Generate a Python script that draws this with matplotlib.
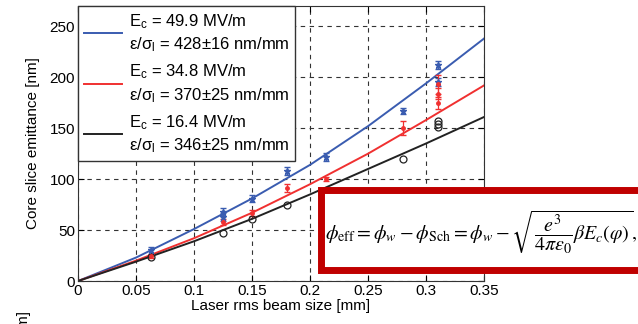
import numpy as np
import matplotlib.pyplot as plt
from matplotlib.patches import Rectangle

plt.rcParams['font.family'] = ['Liberation Sans', 'DejaVu Sans']
plt.rcParams['mathtext.fontset'] = 'custom'
plt.rcParams['mathtext.rm'] = 'Liberation Sans'
plt.rcParams['mathtext.it'] = 'Liberation Sans:italic'

# fit curves
x_fit = [0, 0.05, 0.1, 0.15, 0.2, 0.25, 0.3, 0.35]
blue_fit = [0, 23, 51, 81, 114, 152, 194, 238]
red_fit = [0, 20, 42, 67, 95, 125, 158, 192]
black_fit = [0, 19, 39, 61, 85, 110, 135, 161]

# measured points
bx = [0.0625, 0.125, 0.125, 0.15, 0.18, 0.214, 0.28, 0.31, 0.31]
by = [30, 68, 63, 81, 108, 122, 167, 212, 195]
be = [3, 4, 4, 3, 4, 4, 3, 4, 4]

rx = [0.0625, 0.125, 0.15, 0.18, 0.214, 0.28, 0.31, 0.31, 0.31]
ry = [25, 58, 67, 91, 100, 150, 193, 184, 175]
re = [2, 3, 3, 4, 2, 7, 9, 5, 6]

kx = [0.0625, 0.125, 0.15, 0.18, 0.28, 0.31, 0.31, 0.31]
ky = [24, 47, 61, 75, 120, 157, 154, 151]

labels = ['E$_{\\rm c}$ = 49.9 MV/m\nε/σ$_{\\rm l}$ = 428±16 nm/mm',
          'E$_{\\rm c}$ = 34.8 MV/m\nε/σ$_{\\rm l}$ = 370±25 nm/mm',
          'E$_{\\rm c}$ = 16.4 MV/m\nε/σ$_{\\rm l}$ = 346±25 nm/mm']

cb, cr, ck = '#3a5cb0', '#f03030', '#222222'

fig = plt.figure(figsize=(6.38, 3.24), dpi=100)
ax = fig.add_axes([0.1223, 0.1327, 0.6363, 0.8488])

l1, = ax.plot(x_fit, blue_fit, color=cb, lw=1.4)
l2, = ax.plot(x_fit, red_fit, color=cr, lw=1.4)
l3, = ax.plot(x_fit, black_fit, color=ck, lw=1.4)

ax.errorbar(bx, by, yerr=be, fmt='*', color=cb, ms=5, capsize=2.5, elinewidth=0.9)
ax.errorbar(rx, ry, yerr=re, fmt='.', color=cr, ms=5, capsize=2.5, elinewidth=0.9)
ax.plot(kx, ky, 'o', mfc='none', mec=ck, ms=5, mew=0.9)

ax.set_xlim(0, 0.35)
ax.set_ylim(0, 270)
ax.set_xticks([0, 0.05, 0.1, 0.15, 0.2, 0.25, 0.3, 0.35])
ax.set_xticklabels(['0', '0.05', '0.1', '0.15', '0.2', '0.25', '0.3', '0.35'])
ax.set_yticks([0, 50, 100, 150, 200, 250])
ax.grid(True, ls=(0, (4, 4)), color='#333333', lw=0.8)
ax.tick_params(direction='in', top=True, right=True, labelsize=11, length=4, pad=2)
for s in ax.spines.values():
    s.set_color('#333333')
ax.set_xlabel('Laser rms beam size [mm]', fontsize=11, labelpad=1)
ax.set_ylabel('Core slice emittance [nm]', fontsize=11, labelpad=7)

leg = ax.legend([l1, l2, l3], labels, loc='upper left', fontsize=12,
                handlelength=2.3, borderaxespad=0, fancybox=False,
                edgecolor='#333333', framealpha=1, labelspacing=0.5,
                handletextpad=0.4, borderpad=0.35)
leg.get_frame().set_linewidth(1.0)
for t in leg.get_texts():
    t.set_linespacing(1.35)

# formula box pasted over the chart
fig.patches.append(Rectangle((0.5024, 0.1667), 0.6, 0.247, transform=fig.transFigure,
                             fill=True, facecolor='white', edgecolor='#c00000',
                             lw=5, zorder=10))
fig.text(0.509, 0.283,
         r'$\phi_{\mathrm{eff}} = \phi_w - \phi_{\mathrm{Sch}} = \phi_w - \sqrt{\dfrac{e^3}{4\pi\varepsilon_0}\beta E_c(\varphi)},$',
         fontsize=14.4, va='center', ha='left', zorder=11, math_fontfamily='stix')

# fragment of the next figure below
fig.text(0.037, 0.04, 'emittance [nm]', rotation=90, fontsize=11, va='top', ha='center')

fig.savefig('out.png', dpi=100)
